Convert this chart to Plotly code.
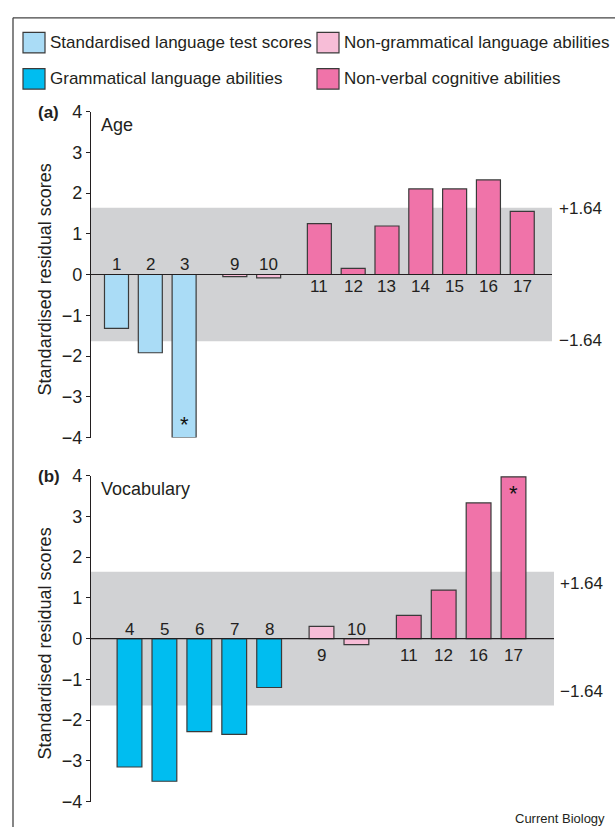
import plotly.graph_objects as go

W, H = 615, 837

# ---------------- data ----------------
series_names = {
    "std": "Standardised language test scores",
    "nongram": "Non-grammatical language abilities",
    "gram": "Grammatical language abilities",
    "nonverbal": "Non-verbal cognitive abilities",
}
series_colors = {
    "std": "#aadcf6",
    "nongram": "#f7bdd7",
    "gram": "#00bdf0",
    "nonverbal": "#f073a9",
}

# Panel (a): Age
age_ids = ["1", "2", "3", "9", "10", "11", "12", "13", "14", "15", "16", "17"]
age_groups = ["std", "std", "std", "nongram", "nongram",
              "nonverbal", "nonverbal", "nonverbal", "nonverbal",
              "nonverbal", "nonverbal", "nonverbal"]
age_values = [-1.32, -1.92, -4.0, -0.05, -0.08, 1.25, 0.15, 1.19, 2.10, 2.10, 2.32, 1.55]
age_signif = ["3"]

# Panel (b): Vocabulary
vocab_ids = ["4", "5", "6", "7", "8", "9", "10", "11", "12", "16", "17"]
vocab_groups = ["gram", "gram", "gram", "gram", "gram", "nongram", "nongram",
                "nonverbal", "nonverbal", "nonverbal", "nonverbal"]
vocab_values = [-3.15, -3.50, -2.28, -2.35, -1.20, 0.30, -0.15, 0.57, 1.19, 3.33, 3.97]
vocab_signif = ["17"]

threshold = 1.64
y_ticks = [-4, -3, -2, -1, 0, 1, 2, 3, 4]

FONT = "Liberation Sans, Arial, sans-serif"
TXT = "#231f20"


def px(x):
    return x / W


def py(y):
    return 1 - y / H


def slots(groups):
    out, pos = [], 0.0
    for i, g in enumerate(groups):
        if i > 0:
            pos += 1.5 if g != groups[i - 1] else 1.0
        out.append(pos)
    return out


fig = go.Figure()
annotations = []
shapes = []

panels = [
    dict(ids=age_ids, groups=age_groups, values=age_values, signif=age_signif,
         xa="x", ya="y", xdom=(91, 552), xrange=(-0.754, 12.88), ydom=(104, 438),
         above=10, below=12, tag="(a)", title="Age", star_shift=13,
         thr_pos=(203, 339), thr_x=557, ytitle_c=276),
    dict(ids=vocab_ids, groups=vocab_groups, values=vocab_values, signif=vocab_signif,
         xa="x2", ya="y2", xdom=(91, 554), xrange=(-1.103, 12.16), ydom=(477, 811),
         above=9, below=17, tag="(b)", title="Vocabulary", star_shift=13,
         thr_pos=(588, 698), thr_x=558, ytitle_c=649),
]

for p in panels:
    pos = slots(p["groups"])
    order = []
    for g in p["groups"]:
        if g not in order:
            order.append(g)
    for g in order:
        xs = [pos[i] for i in range(len(pos)) if p["groups"][i] == g]
        ys = [p["values"][i] for i in range(len(pos)) if p["groups"][i] == g]
        fig.add_trace(go.Bar(
            x=xs, y=ys, name=series_names[g], width=0.71,
            marker=dict(color=series_colors[g], line=dict(color="#3a3a3a", width=1.2)),
            xaxis=p["xa"], yaxis=p["ya"], showlegend=False,
        ))
    xref = p["xa"]
    yref = p["ya"]
    # shaded band and zero line
    shapes.append(dict(type="rect", xref=xref + " domain", yref=yref,
                       x0=0, x1=1, y0=-threshold, y1=threshold,
                       fillcolor="#d1d2d4", line=dict(width=0), layer="below"))
    shapes.append(dict(type="line", xref=xref + " domain", yref=yref,
                       x0=0, x1=1, y0=0, y1=0, line=dict(color="#231f20", width=1.2),
                       layer="above"))
    # bar labels
    for i, lab in enumerate(p["ids"]):
        v = p["values"][i]
        annotations.append(dict(
            x=pos[i], y=0, xref=xref, yref=yref, text=lab, showarrow=False,
            xanchor="center", yanchor="middle",
            yshift=p["above"] if v < 0 else -p["below"],
            font=dict(size=17, color=TXT, family=FONT)))
        if lab in p["signif"]:
            annotations.append(dict(
                x=pos[i], y=v, xref=xref, yref=yref, text="*", showarrow=False,
                xanchor="center", yanchor="middle",
                yshift=p["star_shift"] if v < 0 else -p["star_shift"] - 4,
                font=dict(size=22, color="#111", family=FONT)))
    # panel tag and title
    annotations.append(dict(x=px(36), y=py(p["ydom"][0] + 1), xref="paper", yref="paper",
                            text="<b>" + p["tag"] + "</b>", showarrow=False,
                            xanchor="left", yanchor="middle",
                            font=dict(size=17, color=TXT, family=FONT)))
    annotations.append(dict(x=px(99), y=py(p["ydom"][0] + 14), xref="paper", yref="paper",
                            text=p["title"], showarrow=False,
                            xanchor="left", yanchor="middle",
                            font=dict(size=18, color=TXT, family=FONT)))
    # threshold labels
    annotations.append(dict(x=px(p["thr_x"]), y=py(p["thr_pos"][0]), xref="paper", yref="paper",
                            text="+" + f"{threshold:.2f}", showarrow=False,
                            xanchor="left", yanchor="middle",
                            font=dict(size=17, color=TXT, family=FONT)))
    annotations.append(dict(x=px(p["thr_x"]), y=py(p["thr_pos"][1]), xref="paper", yref="paper",
                            text="\u2212" + f"{threshold:.2f}", showarrow=False,
                            xanchor="left", yanchor="middle",
                            font=dict(size=17, color=TXT, family=FONT)))
    # y-axis title
    annotations.append(dict(x=px(45), y=py(p["ytitle_c"]), xref="paper", yref="paper",
                            text="Standardised residual scores", showarrow=False,
                            textangle=-90, xanchor="center", yanchor="middle",
                            font=dict(size=18, color=TXT, family=FONT)))

# legend (manual)
legend_items = [("std", 23, 23), ("nongram", 317, 23), ("gram", 23, 60), ("nonverbal", 317, 60)]
for key, lx, ly in legend_items:
    shapes.append(dict(type="rect", xref="paper", yref="paper",
                       x0=px(lx), x1=px(lx + 22), y0=py(ly), y1=py(ly + 21),
                       fillcolor=series_colors[key], line=dict(color="#3a3a3a", width=1.2)))
    annotations.append(dict(x=px(lx + 25), y=py(ly + 10.5), xref="paper", yref="paper",
                            text=series_names[key], showarrow=False,
                            xanchor="left", yanchor="middle",
                            font=dict(size=17, color=TXT, family=FONT)))

# outer frame (top and left edges)
shapes.append(dict(type="line", xref="paper", yref="paper", x0=px(13), x1=1.0,
                   y0=py(8), y1=py(8), line=dict(color="#444", width=1.3)))
shapes.append(dict(type="line", xref="paper", yref="paper", x0=px(13), x1=px(13),
                   y0=py(8), y1=0.0, line=dict(color="#444", width=1.3)))

annotations.append(dict(x=px(607), y=py(828), xref="paper", yref="paper",
                        text="Current Biology", showarrow=False,
                        xanchor="right", yanchor="middle",
                        font=dict(size=13, color=TXT, family=FONT)))

axis_common_y = dict(range=[-4, 4], tickvals=y_ticks, showline=True, linecolor="#231f20",
                     linewidth=1.2, ticks="outside", ticklen=4, tickcolor="#231f20",
                     tickwidth=1.2, showgrid=False, zeroline=False,
                     tickfont=dict(size=18, color=TXT, family=FONT))
axis_common_x = dict(visible=False, showgrid=False, zeroline=False)

p0, p1 = panels
fig.update_layout(
    width=W, height=H, autosize=False,
    margin=dict(l=0, r=0, t=0, b=0),
    paper_bgcolor="white", plot_bgcolor="rgba(0,0,0,0)",
    showlegend=False, barmode="overlay",
    font=dict(family=FONT, color=TXT),
    xaxis=dict(domain=[px(p0["xdom"][0]), px(p0["xdom"][1])], range=list(p0["xrange"]),
               anchor="y", **axis_common_x),
    yaxis=dict(domain=[py(p0["ydom"][1]), py(p0["ydom"][0])], anchor="x", **axis_common_y),
    xaxis2=dict(domain=[px(p1["xdom"][0]), px(p1["xdom"][1])], range=list(p1["xrange"]),
                anchor="y2", **axis_common_x),
    yaxis2=dict(domain=[py(p1["ydom"][1]), py(p1["ydom"][0])], anchor="x2", **axis_common_y),
    shapes=shapes,
    annotations=annotations,
)

fig.write_html(
    "out.html",
    config={"displayModeBar": False},
    post_script=(
        "var gd=document.getElementById('{plot_id}');"
        "gd.style.position='fixed';gd.style.left='0px';gd.style.top='0px';"
        "document.body.style.margin='0';document.body.style.padding='0';"
        "document.body.style.overflow='hidden';"
        "document.documentElement.style.overflow='hidden';"
    ),
)
